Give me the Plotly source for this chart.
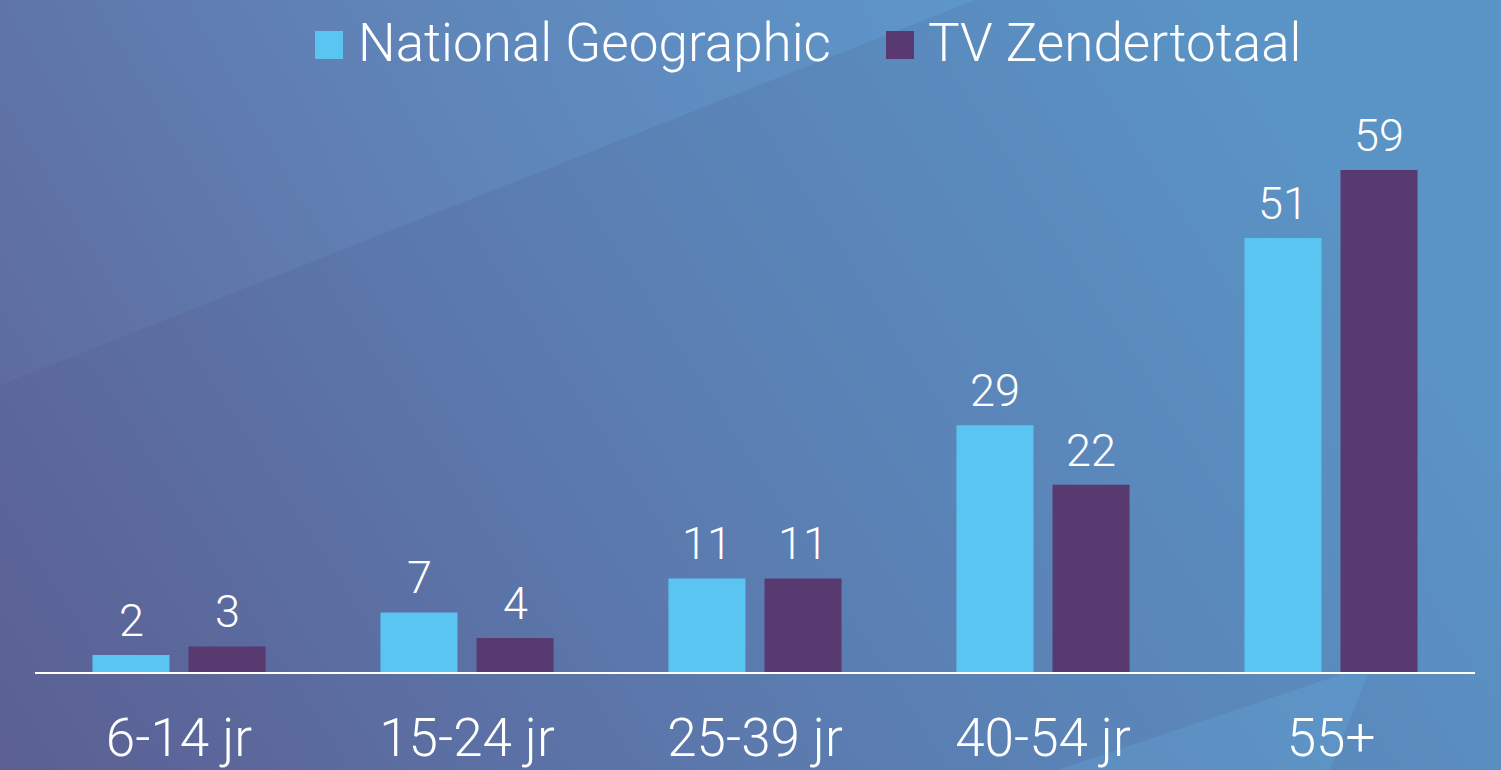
import base64
import plotly.graph_objects as go

categories = ["6-14 jr", "15-24 jr", "25-39 jr", "40-54 jr", "55+"]
natgeo = [2, 7, 11, 29, 51]
tv_total = [3, 4, 11, 22, 59]
series_names = ["National Geographic", "TV Zendertotaal"]
colors = ["#5bc5f2", "#583a71"]

W, H = 1501, 770
ML, MR, MT, MB = 35, 26, 100, 98
PW, PH = W - ML - MR, H - MT - MB
FONT = "Roboto"

svg = f'''<svg xmlns="http://www.w3.org/2000/svg" width="{W}" height="{H}" viewBox="0 0 {W} {H}" preserveAspectRatio="none">
<defs>
<linearGradient id="g" gradientUnits="userSpaceOnUse" x1="0" y1="770" x2="1200" y2="0">
<stop offset="0" stop-color="#5b5f93"/>
<stop offset="0.5" stop-color="#5b7cb0"/>
<stop offset="1" stop-color="#5a93c5"/>
</linearGradient>
<linearGradient id="h" gradientUnits="userSpaceOnUse" x1="0" y1="385" x2="975" y2="0">
<stop offset="0" stop-color="#8ab0e0" stop-opacity="0.06"/>
<stop offset="1" stop-color="#6ab8f0" stop-opacity="0.22"/>
</linearGradient>
</defs>
<rect x="0" y="0" width="{W}" height="{H}" fill="url(#g)"/>
<polygon points="0,0 975,0 0,385" fill="url(#h)"/>
<polygon points="1057,770 1372,664 1330,770" fill="#6ab4e6" fill-opacity="0.22"/>
</svg>'''
src = "data:image/svg+xml;base64," + base64.b64encode(svg.encode()).decode()

fig = go.Figure()
for name, vals, col in zip(series_names, [natgeo, tv_total], colors):
    fig.add_trace(go.Bar(x=categories, y=vals, name=name, marker=dict(color=col, line=dict(width=0)),
                         showlegend=False, hoverinfo="skip"))

annotations = []
for vals, shift in zip([natgeo, tv_total], [-48, 48]):
    for c, v in zip(categories, vals):
        annotations.append(dict(x=c, y=v, xref="x", yref="y", text=str(v), showarrow=False,
                                xshift=shift, yshift=6, yanchor="bottom",
                                font=dict(family=FONT, size=45, color="white", weight=300)))

# manual legend
legend_items = [(315, 356), (886, 926)]
shapes = []
for (sx, tx), name, col in zip(legend_items, series_names, colors):
    x0 = (sx - ML) / PW
    x1 = (sx + 28 - ML) / PW
    y0 = 1 + (MT - 59) / PH
    y1 = 1 + (MT - 31) / PH
    shapes.append(dict(type="rect", xref="paper", yref="paper", x0=x0, x1=x1, y0=y0, y1=y1,
                       fillcolor=col, line=dict(width=0)))
    annotations.append(dict(x=(tx - ML) / PW, y=1 + (MT - 43) / PH, xref="paper", yref="paper",
                            xanchor="left", yanchor="middle", text=name, showarrow=False,
                            font=dict(family=FONT, size=53, color="white", weight=300)))

fig.update_layout(
    width=W, height=H, autosize=False,
    margin=dict(l=ML, r=MR, t=MT, b=MB, pad=0, autoexpand=False),
    paper_bgcolor="#5b7db1", plot_bgcolor="rgba(0,0,0,0)",
    barmode="group", bargap=0.333, bargroupgap=0.198,
    images=[dict(source=src, xref="paper", yref="paper", x=-ML / PW, y=1 + MT / PH,
                 sizex=W / PW, sizey=H / PH, sizing="stretch", xanchor="left", yanchor="top",
                 layer="below")],
    shapes=shapes,
    annotations=annotations,
    xaxis=dict(showline=True, linecolor="white", linewidth=2, showgrid=False, zeroline=False,
               ticks="", ticklabelstandoff=18, automargin=False,
               tickfont=dict(family=FONT, size=53, color="white", weight=300)),
    yaxis=dict(range=[0, PH / 8.508], visible=False, showgrid=False, zeroline=False,
               automargin=False),
    showlegend=False,
)

fig.write_html("out.html", config={"displayModeBar": False},
               post_script="document.body.style.margin='0';document.body.style.overflow='hidden';")
